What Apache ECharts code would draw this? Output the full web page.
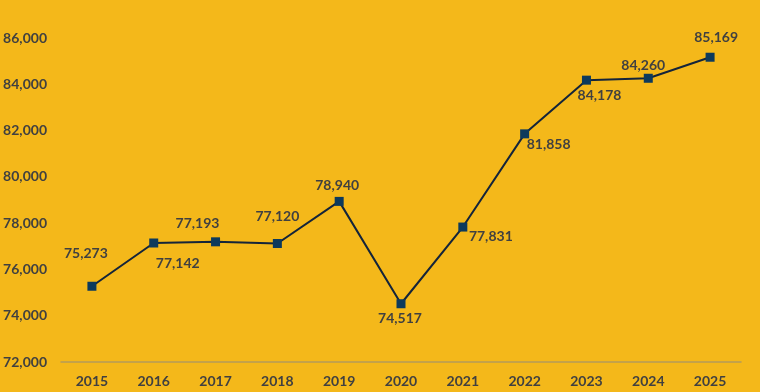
<!DOCTYPE html>
<html><head><meta charset="utf-8">
<script src="https://cdn.jsdelivr.net/npm/echarts@6/dist/echarts.min.js"></script>
<style>html,body{margin:0;padding:0;background:#F4B81A;}#c{width:760px;height:392px;}</style>
</head><body><div id="c"></div>
<script>
var years = ['2015','2016','2017','2018','2019','2020','2021','2022','2023','2024','2025'];
var values = [75273, 77142, 77193, 77120, 78940, 74517, 77831, 81858, 84178, 84260, 85169];
var yTicks = [72000, 74000, 76000, 78000, 80000, 82000, 84000, 86000];
// label offsets (styling), relative to point centre
var labelOffsets = [[-6,-33],[24,20],[-18,-18],[0,-27],[-2,-16],[-1,15],[28,9],[24,11],[13,15],[-5,-13],[6,-20]];

var txt = '#404040';
var font = 'Lato, "Open Sans", sans-serif';
var chart = echarts.init(document.getElementById('c'), null, {renderer:'canvas'});
chart.setOption({
  backgroundColor: '#F4B81A',
  animation: false,
  grid: {left: 61, right: 19, top: 38, bottom: 30},
  xAxis: {
    type: 'category', data: years, boundaryGap: true,
    axisLine: {show: true, lineStyle: {color: '#b49a5a', width: 1.5}},
    axisTick: {show: false},
    axisLabel: {color: txt, fontFamily: font, fontWeight: 'bold', fontSize: 14, margin: 12}
  },
  yAxis: {
    type: 'value', min: yTicks[0], max: yTicks[yTicks.length-1], interval: 2000,
    axisLine: {show: false}, axisTick: {show: false}, splitLine: {show: false},
    axisLabel: {color: txt, fontFamily: font, fontWeight: 'bold', fontSize: 14, margin: 14,
      formatter: function(v){ return v.toLocaleString('en-US'); }}
  },
  series: [{
    type: 'line',
    data: values.map(function(v, i){
      return {value: v, label: {offset: labelOffsets[i]}};
    }),
    symbol: 'rect', symbolSize: 9,
    lineStyle: {color: '#14243a', width: 2},
    itemStyle: {color: '#0d3a5c'},
    label: {show: true, position: 'inside', color: txt, fontFamily: font, fontWeight: 'bold', fontSize: 14,
      formatter: function(p){ return p.value.toLocaleString('en-US'); }}
  }]
});
</script></body></html>
